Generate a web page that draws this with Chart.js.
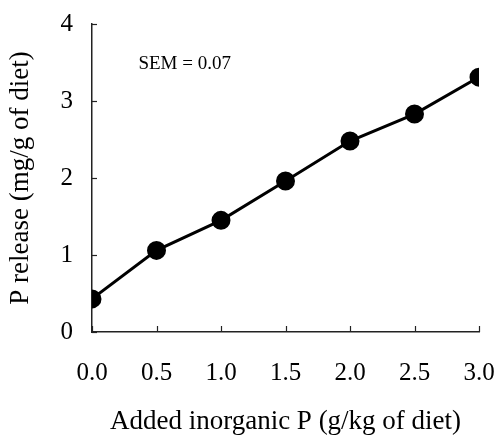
<!DOCTYPE html>
<html>
<head>
<meta charset="utf-8">
<script src="https://cdn.jsdelivr.net/npm/chart.js@4.4.0/dist/chart.umd.min.js"></script>
<style>
  html, body { margin: 0; padding: 0; background: #fff; }
  #wrap { width: 498px; height: 438px; position: relative; }
</style>
</head>
<body>
<div id="wrap"><canvas id="c" width="498" height="438"></canvas></div>
<script>
const addedP = [0.0, 0.5, 1.0, 1.5, 2.0, 2.5, 3.0];
const pRelease = [0.43, 1.06, 1.45, 1.96, 2.48, 2.83, 3.31];
const xTickValues = [0.0, 0.5, 1.0, 1.5, 2.0, 2.5, 3.0];
const yTickValues = [0, 1, 2, 3, 4];
const semText = 'SEM = 0.07';
const semPos = [0.36, 3.48];

const FONT = '"Liberation Serif", "Times New Roman", serif';

const inwardTicks = {
  id: 'inwardTicks',
  afterDraw(chart) {
    const ctx = chart.ctx;
    const xs = chart.scales.x, ys = chart.scales.y;
    ctx.save();
    ctx.strokeStyle = '#222';
    ctx.lineWidth = 1.2;
    const left = ys.right, bottom = xs.top;
    yTickValues.forEach(v => {
      const p = Math.round(ys.getPixelForValue(v)) + 0.5;
      ctx.beginPath(); ctx.moveTo(left, p); ctx.lineTo(left + 5, p); ctx.stroke();
    });
    xTickValues.forEach(v => {
      const p = Math.round(xs.getPixelForValue(v)) + 0.5;
      ctx.beginPath(); ctx.moveTo(p, bottom); ctx.lineTo(p, bottom - 6); ctx.stroke();
    });
    ctx.fillStyle = '#000';
    ctx.font = '19px ' + FONT;
    ctx.textAlign = 'left';
    ctx.textBaseline = 'middle';
    ctx.fillText(semText, xs.getPixelForValue(semPos[0]), ys.getPixelForValue(semPos[1]));
    ctx.restore();
  }
};

new Chart(document.getElementById('c'), {
  type: 'line',
  data: {
    datasets: [{
      data: addedP.map((x, i) => ({ x: x, y: pRelease[i] })),
      borderColor: '#000',
      backgroundColor: '#000',
      borderWidth: 3,
      pointRadius: 8,
      pointHoverRadius: 8,
      pointBackgroundColor: '#000',
      pointBorderColor: '#000',
      tension: 0
    }]
  },
  options: {
    responsive: false,
    animation: false,
    devicePixelRatio: 1,
    layout: { padding: 0 },
    plugins: { legend: { display: false }, tooltip: { enabled: false } },
    scales: {
      x: {
        type: 'linear',
        min: 0, max: 3,
        afterBuildTicks: s => { s.ticks = xTickValues.map(v => ({ value: v })); },
        afterFit: s => { s.height = 106; s.paddingLeft = 0; s.paddingRight = 19; },
        grid: { display: false, drawTicks: false },
        border: { display: true, color: '#222', width: 1.5 },
        ticks: {
          color: '#000',
          font: { family: FONT, size: 25 },
          padding: 26,
          maxRotation: 0,
          callback: v => Number(v).toFixed(1)
        },
        title: {
          display: true,
          text: 'Added inorganic P (g/kg of diet)',
          color: '#000',
          font: { family: FONT, size: 27 },
          padding: { top: -2, bottom: 0 }
        }
      },
      y: {
        min: 0, max: 4,
        afterBuildTicks: s => { s.ticks = yTickValues.map(v => ({ value: v })); },
        afterFit: s => { s.width = 92; s.paddingTop = 24; s.paddingBottom = 0; },
        grid: { display: false, drawTicks: false },
        border: { display: true, color: '#222', width: 1.5 },
        ticks: {
          color: '#000',
          font: { family: FONT, size: 25 },
          padding: 19,
          callback: v => String(v)
        },
        title: {
          display: true,
          text: 'P release (mg/g of diet)',
          color: '#000',
          font: { family: FONT, size: 27 },
          padding: { top: 5, bottom: 0 }
        }
      }
    }
  },
  plugins: [inwardTicks]
});
</script>
</body>
</html>
